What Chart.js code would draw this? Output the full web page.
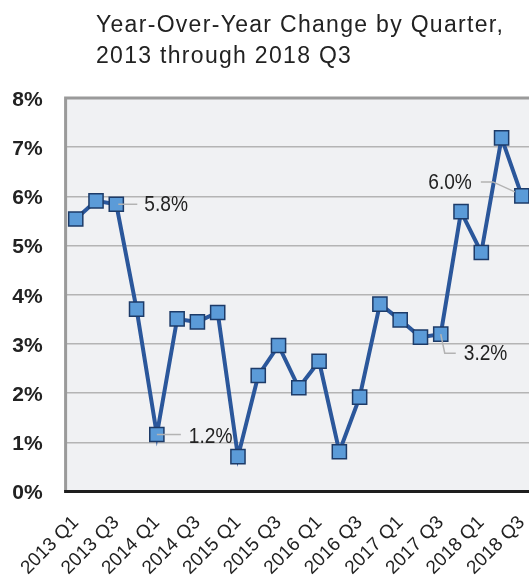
<!DOCTYPE html>
<html>
<head>
<meta charset="utf-8">
<script src="https://cdn.jsdelivr.net/npm/chart.js@4.4.1/dist/chart.umd.min.js"></script>
<style>
  html, body { margin: 0; padding: 0; background: #fff; overflow: hidden; }
  #wrap { position: relative; width: 529px; height: 576px; overflow: hidden; }
  #title { position: absolute; left: 96px; top: 8.6px; font: 23px "Liberation Sans", Arial, sans-serif; letter-spacing: 1.3px; line-height: 31px; color: #222; white-space: nowrap; }
  canvas { position: absolute; left: 0; top: 0; }
</style>
</head>
<body>
<div id="wrap">
  <canvas id="chart" width="532" height="576"></canvas>
  <div id="title">Year-Over-Year Change by Quarter,<br>2013 through 2018 Q3</div>
</div>
<script>
const quarters = [
    '2013 Q1', '2013 Q2', '2013 Q3', '2013 Q4',
    '2014 Q1', '2014 Q2', '2014 Q3', '2014 Q4',
    '2015 Q1', '2015 Q2', '2015 Q3', '2015 Q4',
    '2016 Q1', '2016 Q2', '2016 Q3', '2016 Q4',
    '2017 Q1', '2017 Q2', '2017 Q3', '2017 Q4',
    '2018 Q1', '2018 Q2', '2018 Q3'
]
const yoyChange = [
    5.54, 5.91, 5.84, 3.71,
    1.16, 3.51, 3.45, 3.64,
    0.71, 2.36, 2.97, 2.11,
    2.65, 0.81, 1.92, 3.81,
    3.49, 3.14, 3.20, 5.69,
    4.86, 7.19, 6.01
]
const yTicks = [0, 1, 2, 3, 4, 5, 6, 7, 8]
// points that get a value callout
const calloutPoints = [2, 4, 18, 22]

// where each callout's leader line and text go, relative to its point
const calloutStyle = {
    2:  { line: [[2, 0], [21, 0]], text: [28, 1], align: 'left' },
    4:  { line: [[0, 0], [24, 0]], text: [32, 2], align: 'left' },
    18: { line: [[0, 0], [4, 19], [15, 19]], text: [23, 20], align: 'left' },
    22: { line: [[-7, -4], [-29, -14], [-41, -14]], text: [-50, -13], align: 'right' }
}

const plotBackground = {
    id: 'plotBackground',
    beforeDraw(chart) {
        const { ctx, chartArea: a } = chart
        ctx.save()
        ctx.fillStyle = '#f0f1f3'
        ctx.fillRect(a.left, a.top, a.right - a.left, a.bottom - a.top)
        ctx.restore()
    },
    beforeDatasetsDraw(chart) {
        const { ctx, chartArea: a } = chart
        ctx.save()
        ctx.strokeStyle = '#9a9a9a'
        ctx.lineWidth = 3
        ctx.beginPath()
        ctx.moveTo(a.left, a.bottom)
        ctx.lineTo(a.left, a.top)
        ctx.lineTo(a.right, a.top)
        ctx.stroke()
        ctx.strokeStyle = '#1e1e1e'
        ctx.beginPath()
        ctx.moveTo(a.left - 1.5, a.bottom)
        ctx.lineTo(a.right, a.bottom)
        ctx.stroke()
        ctx.restore()
    }
}

const callouts = {
    id: 'callouts',
    afterDatasetsDraw(chart) {
        const { ctx } = chart
        const meta = chart.getDatasetMeta(0)
        ctx.save()
        calloutPoints.forEach((i) => {
            const p = meta.data[i]
            const s = calloutStyle[i]
            ctx.strokeStyle = '#b3b3b3'
            ctx.lineWidth = 1.5
            ctx.beginPath()
            s.line.forEach(([dx, dy], k) => {
                if (k === 0) ctx.moveTo(p.x + dx, p.y + dy)
                else ctx.lineTo(p.x + dx, p.y + dy)
            })
            ctx.stroke()

            // slightly narrowed text, like the original's light condensed face
            ctx.save()
            ctx.translate(p.x + s.text[0], p.y + s.text[1])
            ctx.scale(0.87, 1)
            ctx.fillStyle = '#222'
            ctx.font = '22px "Liberation Sans", Arial, sans-serif'
            ctx.textAlign = s.align
            ctx.textBaseline = 'middle'
            ctx.fillText(yoyChange[i].toFixed(1) + '%', 0, 0)
            ctx.restore()
        })
        ctx.restore()
    }
}

const ctx = document.getElementById('chart').getContext('2d')
new Chart(ctx, {
    type: 'line',
    data: {
        labels: quarters,
        datasets: [{
            data: yoyChange,
            borderColor: '#2b579b',
            borderWidth: 4,
            tension: 0,
            pointStyle: 'rect',
            pointRadius: 10,
            pointHoverRadius: 10,
            pointBackgroundColor: '#5b9bd8',
            pointBorderColor: '#1d3b68',
            pointBorderWidth: 1.5
        }]
    },
    options: {
        responsive: false,
        animation: false,
        layout: { autoPadding: false, padding: { top: 98, left: 0, right: 0, bottom: 0 } },
        plugins: {
            legend: { display: false },
            tooltip: { enabled: false },
            title: { display: false }
        },
        scales: {
            x: {
                type: 'category',
                offset: true,
                grid: { display: false, drawTicks: false },
                border: { display: false },
                ticks: {
                    autoSkip: false,
                    minRotation: 45,
                    maxRotation: 45,
                    padding: 20,
                    color: '#222',
                    font: { family: '"Liberation Sans", Arial, sans-serif', size: 19 },
                    callback: (v, i) => i % 2 === 0 ? quarters[i] : ''
                },
                afterFit: (scale) => {
                    scale.height = 84.4
                    scale.paddingLeft = 0
                    scale.paddingRight = 0
                }
            },
            y: {
                min: yTicks[0],
                max: yTicks[yTicks.length - 1],
                afterBuildTicks: (scale) => { scale.ticks = yTicks.map((v) => ({ value: v })) },
                grid: {
                    drawTicks: false,
                    lineWidth: 1.5,
                    color: '#b4b4b4'
                },
                border: { display: false },
                ticks: {
                    padding: 23,
                    labelOffset: 2,
                    color: '#222',
                    font: { family: '"Liberation Sans", Arial, sans-serif', size: 21, weight: 'bold' },
                    callback: (v) => v + '%'
                },
                afterFit: (scale) => {
                    scale.width = 65.6
                    scale.paddingTop = 0
                    scale.paddingBottom = 0
                }
            }
        }
    },
    plugins: [plotBackground, callouts]
})
</script>
</body>
</html>
